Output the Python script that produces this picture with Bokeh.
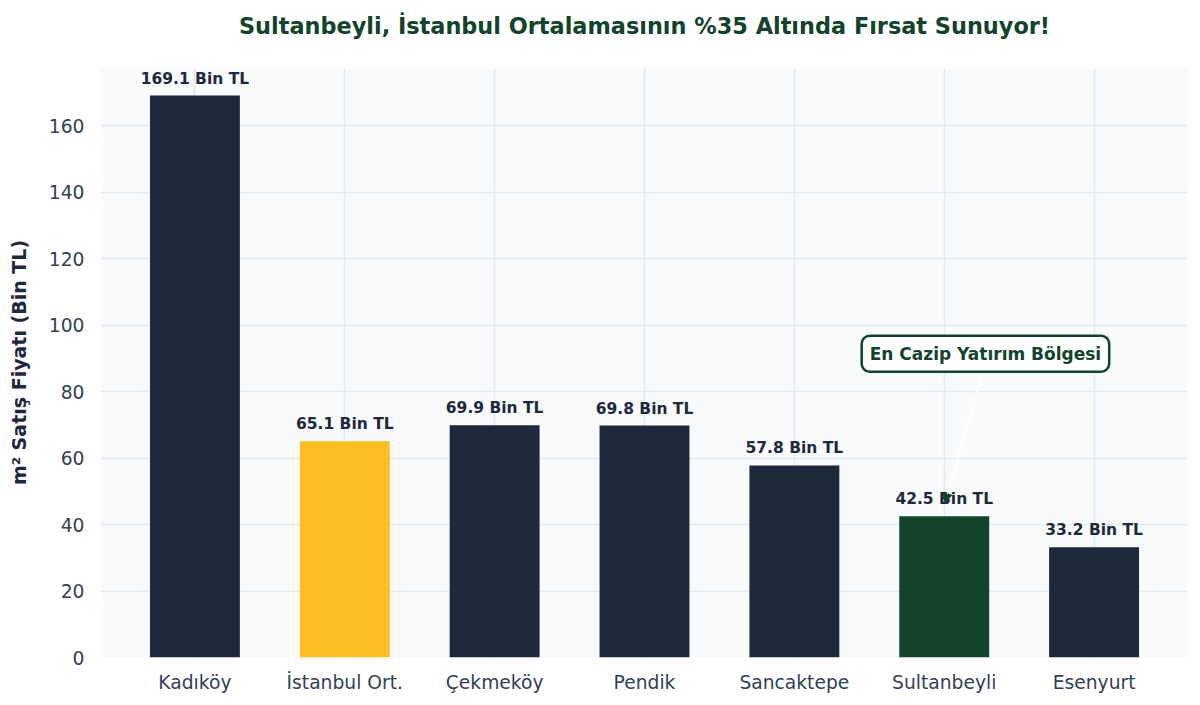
from bokeh.core.properties import value
from bokeh.embed import file_html
from bokeh.resources import INLINE
from bokeh.models import (ColumnDataSource, Range1d, FixedTicker, LabelSet,
                          Label, Arrow, NormalHead, Title)
from bokeh.plotting import figure

# Data
districts = ['Kadıköy', 'İstanbul Ort.', 'Çekmeköy', 'Pendik', 'Sancaktepe', 'Sultanbeyli', 'Esenyurt']
prices = [169.1, 65.1, 69.9, 69.8, 57.8, 42.5, 33.2]
bar_colors = ['#1e293b', '#fbbf24', '#1e293b', '#1e293b', '#1e293b', '#12432b', '#1e293b']
y_ticks = [0, 20, 40, 60, 80, 100, 120, 140, 160]

FONT = 'DejaVu Sans'
GREEN = '#12432b'
NAVY = '#1e293b'

xs = list(range(len(districts)))
source = ColumnDataSource(data=dict(
    x=xs,
    price=prices,
    color=bar_colors,
    label=[f"{v:.1f} Bin TL" for v in prices],
))

p = figure(frame_width=1088, frame_height=590,
           x_range=Range1d(-0.63, len(districts) - 1 + 0.63),
           y_range=Range1d(0, max(prices) * 1.05),
           output_backend="svg", toolbar_location=None,
           min_border_left=100, min_border_right=4,
           min_border_top=67, min_border_bottom=38)

# Title (plus a blank spacer between title and frame)
p.title.text = 'Sultanbeyli, İstanbul Ortalamasının %35 Altında Fırsat Sunuyor!'
p.title.align = 'center'
p.title.text_font = FONT
p.title.text_font_size = '22.4px'
p.title.text_font_style = 'bold'
p.title.text_color = GREEN
p.add_layout(Title(text=' ', text_font_size='11px'), 'above')

p.background_fill_color = '#f8fafc'
p.border_fill_color = 'white'
p.outline_line_color = None

# Bars
p.vbar(x='x', top='price', width=0.6, source=source,
       fill_color='color', line_color=None)

# Value labels above bars
labels = LabelSet(x='x', y='price', text='label', source=source,
                  text_align='center', text_baseline='alphabetic', y_offset=12,
                  text_font=value(FONT), text_font_size=value('15.5px'),
                  text_font_style='bold', text_color=NAVY)
p.add_layout(labels)

# Axes
p.xaxis.ticker = FixedTicker(ticks=xs)
p.xaxis.major_label_overrides = {i: name for i, name in enumerate(districts)}
p.yaxis.ticker = FixedTicker(ticks=y_ticks)
for ax in (p.xaxis, p.yaxis):
    ax.axis_line_color = None
    ax.major_tick_line_color = None
    ax.minor_tick_line_color = None
    ax.major_tick_out = 0
    ax.minor_tick_out = 0
    ax.major_label_text_font = FONT
    ax.major_label_text_font_size = '18.7px'
    ax.major_label_text_color = '#334155'
p.xaxis.major_label_standoff = 14
p.yaxis.major_label_standoff = 16

p.yaxis.axis_label = 'm² Satış Fiyatı (Bin TL)'
p.yaxis.axis_label_text_font = FONT
p.yaxis.axis_label_text_font_size = '19px'
p.yaxis.axis_label_text_font_style = 'bold'
p.yaxis.axis_label_text_color = NAVY
p.yaxis.axis_label_standoff = 16

# Grid
p.xgrid.ticker = FixedTicker(ticks=xs)
p.ygrid.ticker = FixedTicker(ticks=y_ticks)
p.grid.grid_line_color = '#e2e8f0'
p.grid.grid_line_width = 1.5

# Annotation with arrow
p.add_layout(Arrow(end=NormalHead(size=9, fill_color=GREEN, line_color=GREEN),
                   x_start=5.26, y_start=86.3, x_end=5.005, y_end=46.6,
                   line_color='white', line_width=1.5))
p.add_layout(Label(x=5.275, y=91.4, text='En Cazip Yatırım Bölgesi',
                   text_align='center', text_baseline='middle',
                   text_font=FONT, text_font_size='17px', text_font_style='bold',
                   text_color=GREEN,
                   background_fill_color='white',
                   border_line_color=GREEN, border_line_width=2.5,
                   padding=8, border_radius=8))

open("out.html", "w").write(file_html(p, INLINE))
